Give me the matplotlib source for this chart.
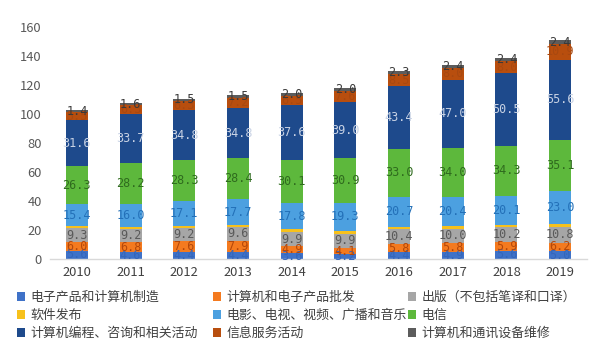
import matplotlib
matplotlib.use("Agg")
import matplotlib.pyplot as plt
from matplotlib.patches import Patch
import numpy as np

plt.rcParams['font.family'] = ['Noto Sans CJK SC', 'DejaVu Sans']

years = ['2010', '2011', '2012', '2013', '2014', '2015', '2016', '2017', '2018', '2019']

series_names = [
    '电子产品和计算机制造', '计算机和电子产品批发', '出版（不包括笔译和口译）',
    '软件发布', '电影、电视、视频、广播和音乐', '电信',
    '计算机编程、咨询和相关活动', '信息服务活动', '计算机和通讯设备维修',
]

electronics_mfg = [5.6, 4.6, 4.4, 4.4, 3.6, 3.2, 4.4, 4.9, 5.6, 5.0]
wholesale = [6.0, 6.8, 7.6, 7.9, 4.9, 4.1, 5.8, 5.8, 5.9, 6.2]
publishing = [9.3, 9.2, 9.2, 9.6, 9.9, 9.9, 10.4, 10.0, 10.2, 10.8]
software = [1.5, 1.3, 1.4, 1.4, 2.2, 2.0, 1.5, 1.7, 1.8, 1.9]
media = [15.4, 16.0, 17.1, 17.7, 17.8, 19.3, 20.7, 20.4, 20.1, 23.0]
telecom = [26.3, 28.2, 28.3, 28.4, 30.1, 30.9, 33.0, 34.0, 34.3, 35.1]
programming = [31.6, 33.7, 34.8, 34.8, 37.6, 39.0, 43.4, 47.0, 50.5, 55.6]
info_services = [5.5, 6.3, 6.3, 7.2, 6.5, 7.6, 8.5, 8.0, 8.0, 10.9]
repair = [1.4, 1.6, 1.5, 1.5, 2.0, 2.0, 2.3, 2.4, 2.4, 2.4]

yticks = [0, 20, 40, 60, 80, 100, 120, 140, 160]

all_series = [electronics_mfg, wholesale, publishing, software, media,
              telecom, programming, info_services, repair]
colors = ['#3F72C8', '#F47A1F', '#A6A6A6', '#F7C11C', '#4CA0E0',
          '#5DB83C', '#1E4A8C', '#B84E0E', '#5C5C5C']
label_colors = ['#3466BA', '#B3470A', '#595959', None, '#2370B8',
                '#2F6B1E', '#C8D2E4', '#A84810', '#3A3A3A']

fig = plt.figure(figsize=(5.91, 3.60), dpi=100)
ax = fig.add_axes([50 / 591, 1 - 258.7 / 360, 537 / 591, (258.7 - 27.3) / 360])

x = np.arange(len(years))
bottom = np.zeros(len(years))
width = 0.41
for vals, col, lc in zip(all_series, colors, label_colors):
    v = np.array(vals)
    ax.bar(x, v, width, bottom=bottom, color=col, linewidth=0, zorder=2)
    if lc is not None:
        for xi, b, vi in zip(x, bottom, v):
            ax.text(xi, b + vi / 2, f'{vi:.1f}', ha='center', va='center',
                    fontsize=8.5, color=lc, family='DejaVu Sans Mono', zorder=3)
    bottom += v

ax.set_xlim(-0.5, len(years) - 0.5)
ax.set_ylim(0, 160)
ax.set_yticks(yticks)
ax.set_xticks(x)
ax.set_xticklabels(years)
ax.tick_params(axis='both', length=0, labelsize=9.3, colors='#404040')
ax.tick_params(axis='y', pad=6, colors='#595959')
ax.tick_params(axis='x', pad=5)
for s in ['top', 'right', 'left']:
    ax.spines[s].set_visible(False)
ax.spines['bottom'].set_color('#D9D9D9')
ax.spines['bottom'].set_linewidth(1.0)

handles = [Patch(facecolor=c, edgecolor='none') for c in colors]
col_x = [17, 213, 408]
for ci in range(3):
    idx = [ci, ci + 3, ci + 6]
    fig.legend([handles[i] for i in idx], [series_names[i] for i in idx],
               loc='upper left', bbox_to_anchor=(col_x[ci] / 591, 1 - 291 / 360),
               frameon=False, ncol=1, fontsize=9.3, handlelength=0.65,
               handleheight=0.65, handletextpad=0.4, labelspacing=0.38,
               borderpad=0, borderaxespad=0, labelcolor='#404040')

fig.savefig('out.png', dpi=100)
